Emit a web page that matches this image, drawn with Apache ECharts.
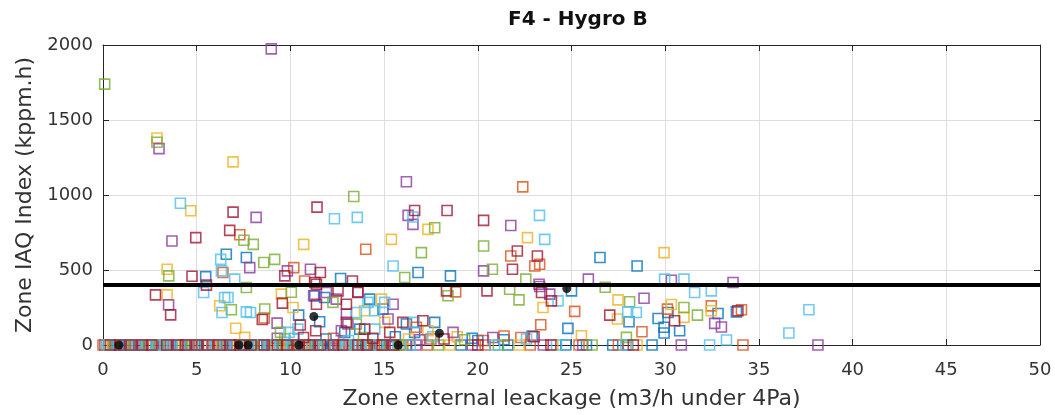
<!DOCTYPE html>
<html>
<head>
<meta charset="utf-8">
<script src="https://cdn.jsdelivr.net/npm/echarts@6/dist/echarts.min.js"></script>
<style>html,body{margin:0;padding:0;background:#fff}#c{width:1055px;height:415px}</style>
</head>
<body>
<div id="c"></div>
<script>
const titleText = 'F4 - Hygro B';
const xName = 'Zone external leackage (m3/h under 4Pa)';
const yName = 'Zone IAQ Index (kppm.h)';
const xRange = [0, 50, 5];
const yRange = [0, 2000, 500];
const threshold = 400;

const blueData = [[6.58,605],[7.65,583],[5.48,456],[12.68,443],[16.81,483],[18.54,461],[26.52,583],[28.5,527],
 [10.44,199],[11.56,155],[11.83,317],[12.9,84],[13.7,106],[14.23,306],[14.94,239],[16.19,140],[16.63,84],[17.7,151],
 [24.81,111],[25.0,361],[28.07,155],[29.62,177],[29.94,118],[29.94,80],[30.77,95],[30.15,217],[32.82,210],[33.8,221],
 [11.3,328],[19.7,45],[21.4,35],[22.9,60],[11.9,40],[15.6,55],[20.0,30],
 [0.3,0],[1.6,0],[2.3,0],[3.4,0],[4.9,0],[5.8,0],[6.9,0],[8.2,0],[9.1,0],[10.9,0],[12.2,0],[13.5,0],[14.6,0],[16.2,0],
 [0.8,0],[2.9,0],[4.1,0],[6.4,0],[7.6,0],[10.0,0],[11.7,0],[14.0,0],[15.4,0],[15.9,0],
 [19.1,0],[21.6,0],[24.7,0],[25.8,0],[27.2,0],[28.0,0],[29.3,0]];
const orangeData = [[22.4,1054],[14.02,638],[21.76,593],[23.04,527],[23.3,538],[7.3,735],[10.76,427],[10.18,516],
 [6.4,483],[23.36,135],[25.17,224],[30.12,239],[32.46,261],[34.07,235],[8.6,180],[16.72,118],[28.76,88],[18.82,354],
 [20.3,30],[22.3,50],[17.5,40],[12.3,45],[21.4,60],
 [0.0,0],[1.2,0],[2.7,0],[3.9,0],[5.1,0],[6.3,0],[7.5,0],[8.8,0],[9.9,0],[11.2,0],[12.7,0],[13.9,0],[15.0,0],
 [0.6,0],[1.7,0],[3.3,0],[4.6,0],[5.9,0],[7.0,0],[8.3,0],[10.5,0],[12.0,0],[14.5,0],[16.0,0],
 [17.3,0],[20.4,0],[22.8,0],[25.4,0],[27.5,0],[34.15,0]];
const yellowData = [[2.88,1380],[6.94,1221],[4.68,895],[15.39,704],[17.34,771],[22.65,716],[10.71,671],[29.94,616],
 [3.42,505],[3.42,334],[6.23,262],[7.08,112],[7.56,51],[9.52,339],[10.14,250],[13.96,228],[14.86,306],[15.03,151],
 [17.34,95],[23.48,250],[27.48,301],[27.45,173],[25.53,62],[30.33,270],[31.0,184],[32.46,228],[16.3,40],[18.9,55],
 [0.5,0],[1.9,0],[3.1,0],[4.4,0],[5.3,0],[6.6,0],[7.9,0],[9.4,0],[10.6,0],[11.8,0],[13.1,0],[14.3,0],[15.5,0],
 [1.0,0],[2.4,0],[3.8,0],[5.8,0],[7.2,0],[8.6,0],[10.0,0],[11.3,0],[12.5,0],[13.8,0],[15.9,0],
 [18.5,0],[22.2,0],[24.0,0],[28.5,0]];
const purpleData = [[8.98,1974],[2.99,1309],[8.17,851],[3.68,693],[16.19,1088],[16.28,864],[16.54,804],[21.76,797],
 [7.83,516],[9.84,494],[11.07,505],[20.31,494],[23.27,405],[25.9,439],[30.33,432],[33.62,417],[3.5,268],[9.29,146],
 [11.24,328],[11.92,350],[12.45,306],[13.6,354],[13.07,140],[12.99,206],[12.72,95],[15.21,173],[15.48,272],[18.68,84],
 [23.3,390],[23.84,339],[28.87,312],[32.64,144],[33.0,120],[9.3,45],[16.9,35],[20.8,50],
 [0.7,0],[1.4,0],[2.5,0],[3.6,0],[4.7,0],[6.0,0],[7.1,0],[8.5,0],[9.6,0],[10.8,0],[12.0,0],[13.3,0],[14.8,0],
 [0.1,0],[1.9,0],[3.2,0],[5.3,0],[6.6,0],[7.7,0],[9.0,0],[10.2,0],[11.6,0],[12.6,0],[14.2,0],[15.6,0],
 [16.7,0],[19.7,0],[23.5,0],[25.6,0],[30.86,0],[38.15,0]];
const greenData = [[0.09,1739],[2.88,1352],[13.38,990],[17.7,782],[7.52,698],[8.02,671],[8.58,550],[9.16,571],
 [16.99,616],[20.31,660],[20.78,505],[22.56,439],[26.8,385],[3.51,461],[16.1,450],[7.65,383],[6.85,235],[8.63,240],
 [9.47,84],[10.05,352],[12.27,284],[13.52,140],[18.41,328],[21.7,372],[22.2,301],[28.1,288],[27.93,51],[31.0,250],
 [31.72,199],[9.7,40],[13.9,50],[19.3,35],
 [0.2,0],[1.1,0],[2.0,0],[3.0,0],[4.2,0],[5.6,0],[6.8,0],[8.0,0],[9.2,0],[10.3,0],[11.5,0],[12.9,0],[14.1,0],[15.3,0],
 [0.6,0],[1.5,0],[2.4,0],[3.5,0],[4.8,0],[6.1,0],[7.4,0],[8.4,0],[9.6,0],[10.8,0],[12.4,0],[13.6,0],[14.7,0],[15.8,0],
 [17.9,0],[21.1,0],[26.1,0]];
const lightBlueData = [[4.13,945],[12.35,842],[13.57,851],[16.54,853],[23.29,864],[23.57,704],[15.48,527],[6.28,571],
 [7.03,439],[6.32,494],[5.37,350],[6.49,317],[6.67,317],[6.35,217],[7.65,221],[7.87,217],[9.93,84],[10.4,106],[13.52,217],
 [14.14,284],[14.5,228],[14.5,106],[15.03,284],[16.6,151],[24.28,294],[28.0,221],[28.46,217],[29.97,439],[31.0,439],
 [31.57,350],[32.46,361],[33.27,33],[36.6,80],[37.67,235],[10.2,45],[13.1,30],[17.6,55],[22.6,40],
 [0.9,0],[1.8,0],[2.9,0],[3.7,0],[4.5,0],[5.5,0],[6.5,0],[7.7,0],[8.9,0],[10.1,0],[11.4,0],[12.4,0],[13.7,0],[15.2,0],
 [0.3,0],[1.3,0],[2.3,0],[3.3,0],[4.1,0],[5.0,0],[6.0,0],[7.1,0],[8.3,0],[9.5,0],[10.6,0],[11.8,0],[13.0,0],[14.3,0],[16.4,0],
 [20.9,0],[24.2,0],[27.9,0],[32.37,0]];
const darkRedData = [[6.94,886],[11.42,919],[4.95,716],[6.76,764],[16.63,897],[18.36,897],[20.31,831],[22.11,627],
 [23.18,593],[21.85,505],[4.75,458],[9.7,461],[11.6,483],[11.3,417],[11.39,405],[13.31,427],[2.8,334],[3.61,201],
 [5.52,399],[8.5,170],[9.57,279],[10.53,133],[11.35,95],[11.39,272],[12.54,361],[12.99,272],[12.99,151],[13.6,350],
 [13.96,106],[15.3,84],[16.0,151],[17.07,162],[18.33,361],[20.49,361],[23.4,350],[23.93,294],[27.04,199],[30.5,162],
 [33.88,228],[10.7,50],[14.4,45],[18.2,40],[23.0,55],
 [0.4,0],[1.5,0],[2.6,0],[4.0,0],[5.0,0],[6.2,0],[7.3,0],[8.6,0],[9.8,0],[11.0,0],[12.3,0],[13.6,0],[14.9,0],
 [0.9,0],[2.1,0],[3.4,0],[4.4,0],[5.6,0],[6.8,0],[7.9,0],[9.3,0],[10.4,0],[11.6,0],[12.8,0],[14.1,0],[15.5,0],
 [20.0,0],[23.9,0],[28.3,0]];
const meanData = [[0.85,0],[7.25,0],[7.75,0],[10.45,0],[11.25,190],[15.75,0],[17.95,78],[24.75,377]];

const groups = [
  ['blue', blueData, '#0072BD'],
  ['orange', orangeData, '#D95319'],
  ['yellow', yellowData, '#EDB120'],
  ['purple', purpleData, '#8B3A9E'],
  ['green', greenData, '#77AC30'],
  ['lightblue', lightBlueData, '#4DBEEE'],
  ['darkred', darkRedData, '#A2142F']
];

const FONT = 'DejaVu Sans';
const TXT = '#333333';
const chart = echarts.init(document.getElementById('c'), null, {renderer: 'canvas'});

const series = groups.map(g => ({
  name: g[0], type: 'scatter', data: g[1], xAxisIndex: 0, yAxisIndex: 0,
  symbol: 'rect', symbolSize: 10, clip: false, silent: true,
  itemStyle: {color: 'rgba(255,255,255,0)', borderColor: g[2], borderWidth: 1.6}
}));
series.push({
  name: 'threshold', type: 'line', xAxisIndex: 0, yAxisIndex: 0,
  data: [[xRange[0], threshold], [xRange[1], threshold]],
  symbol: 'none', lineStyle: {color: '#000', width: 4}, silent: true
});
series.push({
  name: 'mean', type: 'scatter', data: meanData, xAxisIndex: 0, yAxisIndex: 0,
  symbol: 'circle', symbolSize: 9, clip: false, silent: true,
  itemStyle: {color: '#000'}
});

const baseAxisLine = {show: true, onZero: false, lineStyle: {color: '#262626', width: 1}};
chart.setOption({
  animation: false,
  backgroundColor: '#fff',
  grid: {left: 103, right: 15, top: 45, bottom: 69, containLabel: false},
  graphic: [{
    type: 'text', left: 577 - 69, top: 10,
    style: {text: titleText, font: 'bold 20px "DejaVu Sans"', fill: '#111'}
  }],
  xAxis: [{
    type: 'value', position: 'bottom', min: xRange[0], max: xRange[1], interval: xRange[2],
    axisLine: baseAxisLine, axisTick: {show: true, inside: true, length: 6, lineStyle: {color: '#262626'}},
    axisLabel: {color: TXT, fontFamily: FONT, fontSize: 18, margin: 16},
    splitLine: {show: true, lineStyle: {color: '#dedede', width: 1}},
    name: xName, nameLocation: 'middle', nameGap: 43,
    nameTextStyle: {color: TXT, fontFamily: FONT, fontSize: 22}
  }, {
    type: 'value', position: 'top', min: xRange[0], max: xRange[1], interval: xRange[2],
    axisLine: baseAxisLine, axisTick: {show: true, inside: true, length: 6, lineStyle: {color: '#262626'}},
    axisLabel: {show: false}, splitLine: {show: false}
  }],
  yAxis: [{
    type: 'value', position: 'left', min: yRange[0], max: yRange[1], interval: yRange[2],
    axisLine: baseAxisLine, axisTick: {show: true, inside: true, length: 6, lineStyle: {color: '#262626'}},
    axisLabel: {color: TXT, fontFamily: FONT, fontSize: 18, margin: 10, formatter: v => String(v)},
    splitLine: {show: true, lineStyle: {color: '#dedede', width: 1}},
    name: yName, nameLocation: 'middle', nameGap: 46,
    nameTextStyle: {color: TXT, fontFamily: FONT, fontSize: 22}
  }, {
    type: 'value', position: 'right', min: yRange[0], max: yRange[1], interval: yRange[2],
    axisLine: baseAxisLine, axisTick: {show: true, inside: true, length: 6, lineStyle: {color: '#262626'}},
    axisLabel: {show: false}, splitLine: {show: false}
  }],
  series: series
});
</script>
</body>
</html>
